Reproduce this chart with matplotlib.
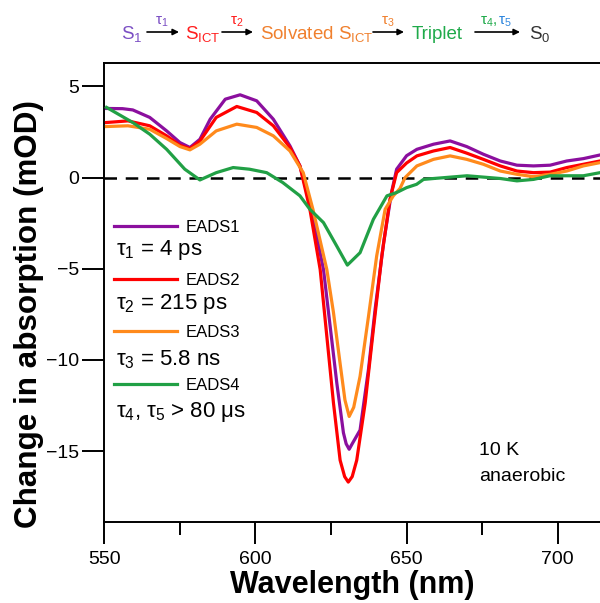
import numpy as np
import matplotlib
matplotlib.use('Agg')
import matplotlib.pyplot as plt
from matplotlib.lines import Line2D

plt.rcParams['font.family'] = ['Liberation Sans', 'DejaVu Sans']
plt.rcParams['mathtext.fontset'] = 'custom'
plt.rcParams['mathtext.rm'] = 'Liberation Sans'
plt.rcParams['mathtext.it'] = 'Liberation Sans'
plt.rcParams['mathtext.bf'] = 'Liberation Sans:bold'

# EADS spectra (wavelength in nm, change in mOD)
wl_1 = [550.7, 556, 559.4, 565, 570.6, 575, 578.3, 581.6, 585, 590, 594.9, 600.4, 605.9,
        611.4, 614.7, 618.5, 622.5, 624.7, 626.9, 629.1, 630, 631, 632, 634.6, 637.4,
        639.6, 642.4, 645, 646.7, 650, 653.4, 658.9, 664.4, 669.9, 675.4, 681, 686.5,
        692, 697.5, 703, 708.5, 714]
eads_1 = [3.79, 3.78, 3.71, 3.30, 2.56, 1.92, 1.65, 2.10, 3.2, 4.3, 4.54, 4.21, 3.2,
          1.74, 0.64, -1.74, -5.04, -8.15, -11.26, -14.0, -14.6, -14.9, -14.6, -13.85, -10.5,
          -7.2, -3.57, -0.82, 0.46, 1.2, 1.55, 1.83, 2.01, 1.70, 1.28, 0.91, 0.68,
          0.64, 0.68, 0.91, 1.04, 1.24]

wl_2 = [550.7, 557.8, 565, 570.6, 575, 578.3, 581.6, 587, 593.8, 600.4, 605.9, 611.4,
        614.7, 618, 621.4, 623.6, 625.8, 628, 629.5, 630.7, 632, 633.5, 636.3, 639,
        641.8, 644.5, 646.7, 650, 653.4, 658.9, 664.4, 669.9, 675.4, 681, 686.5, 692,
        697.5, 703, 708.5, 714]
eads_2 = [3.02, 3.11, 2.84, 2.29, 1.77, 1.59, 2.0, 3.3, 3.9, 3.57, 2.84, 1.65,
          0.64, -1.74, -5.04, -8.7, -12.36, -15.5, -16.4, -16.7, -16.4, -15.5, -12.36, -8.34,
          -4.3, -1.19, 0.27, 0.8, 1.19, 1.46, 1.65, 1.34, 1.0, 0.64, 0.36, 0.27,
          0.3, 0.55, 0.73, 0.91]

wl_3 = [550.7, 557.8, 565, 570.6, 575, 578.3, 581.6, 587, 593.8, 600.4, 605.9, 611.4,
        615.8, 619, 623.6, 625.8, 628, 629.6, 631, 632.5, 634.6, 637.4, 640.1, 642.9,
        645.6, 647.8, 649.5, 653.4, 658.9, 664.4, 669.9, 675.4, 681, 686.5, 692, 697.5,
        703, 708.5, 714]
eads_3 = [2.80, 2.84, 2.65, 2.14, 1.7, 1.52, 1.83, 2.56, 2.93, 2.75, 2.29, 1.46,
          0.27, -1.74, -5.04, -7.4, -10.2, -12.2, -13.1, -12.6, -10.9, -7.6, -4.3, -1.74,
          -1.0, -0.6, 0.0, 0.64, 1.0, 1.19, 1.0, 0.73, 0.36, 0.18, 0.05, 0.18,
          0.36, 0.64, 0.82]

wl_4 = [550.7, 559.4, 565, 570.6, 576.6, 581.6, 587, 592.6, 598, 603.7, 609, 614.7,
        618, 622.5, 626.9, 630.4, 634.6, 639, 643.5, 646.7, 650, 653.3, 655.6, 659,
        670, 681, 686.5, 692, 697.5, 703, 708.5, 714]
eads_4 = [3.85, 3.02, 2.38, 1.55, 0.46, -0.13, 0.27, 0.55, 0.46, 0.27, -0.27, -1.0,
          -1.74, -2.47, -3.76, -4.8, -4.12, -2.29, -1.0, -0.82, -0.55, -0.37, -0.1, -0.05,
          0.1, -0.05, -0.18, -0.1, 0.1, 0.1, 0.1, 0.27]

series_labels = ['EADS1', 'EADS2', 'EADS3', 'EADS4']
series_colors = ['#8B0F9E', '#FF0000', '#FF8A1C', '#21A045']
lifetimes = [r'$\tau_1$ = 4 ps', r'$\tau_2$ = 215 ps', r'$\tau_3$ = 5.8 ns',
             r'$\tau_4$, $\tau_5$ > 80 $\mu$s']

x_ticks = [550, 600, 650, 700]
y_ticks = [5, 0, -5, -10, -15]


fig = plt.figure(figsize=(6, 6.03), dpi=100)
ax = fig.add_axes([0.174, 0.134, 0.826, 0.762])

for wl, vals, col in zip([wl_1, wl_2, wl_3, wl_4], [eads_1, eads_2, eads_3, eads_4], series_colors):
    ax.plot(wl, vals, color=col, lw=2.3, solid_joinstyle='round', zorder=3)

ax.axhline(0, color='black', lw=1.8, ls=(0, (5, 3.5)), zorder=2)

ax.set_xlim(550, 714)
ax.set_ylim(-18.9, 6.3)
ax.set_xticks(x_ticks)
ax.set_xticks([575, 625, 675], minor=True)
ax.set_yticks(y_ticks)
ax.tick_params(axis='both', which='major', direction='out', length=16, width=1.4,
               labelsize=14)
ax.tick_params(axis='x', which='major', pad=5)
ax.tick_params(axis='y', which='major', pad=2)
ax.tick_params(axis='x', which='minor', direction='out', length=9, width=1.4)
for side in ['left', 'bottom', 'top']:
    ax.spines[side].set_linewidth(1.4)
ax.spines['right'].set_visible(False)

ax.set_xlabel('Wavelength (nm)', fontsize=22, fontweight='bold', labelpad=1)
ax.set_ylabel('Change in absorption (mOD)', fontsize=22.6, fontweight='bold')
ax.yaxis.set_label_coords(-0.121, 0.454)

# legend: coloured lines, with lifetimes written in between
handles = [Line2D([], [], color=c, lw=2.3) for c in series_colors]
leg = ax.legend(handles, series_labels, loc='upper left', bbox_to_anchor=(0.006, 0.672),
                frameon=False, fontsize=12, handlelength=3.75, handletextpad=0.55,
                labelspacing=2.25, borderaxespad=0)
for i, txt in enumerate(lifetimes):
    ax.text(0.024, [0.592, 0.474, 0.354, 0.239][i], txt, transform=ax.transAxes,
            fontsize=16, va='center', ha='left')

ax.text(0.756, 0.146, '10 K', transform=ax.transAxes, fontsize=14, va='baseline')
ax.text(0.756, 0.089, 'anaerobic', transform=ax.transAxes, fontsize=14, va='baseline')

# kinetic scheme above the plot
H = 603.0
W = 600.0
def fx(px):
    return px / W
def fy(py):
    return 1 - py / H

scheme = [
    (121, r'S$_1$', '#7B4FC4'),
    (185, r'S$_\mathrm{ICT}$', '#FF1F1F'),
    (260, r'Solvated S$_\mathrm{ICT}$', '#F0802E'),
    (412, 'Triplet', '#1FAA4A'),
    (529, r'S$_0$', '#333333'),
]
for px, s, c in scheme:
    fig.text(fx(px), fy(39), s, color=c, fontsize=13.5, ha='left', va='baseline')

arrows = [(147, 179), (222, 253), (373, 404), (475, 520)]
for a, b in arrows:
    ax.annotate('', xy=(fx(b), fy(32)), xytext=(fx(a), fy(32)), xycoords='figure fraction',
                textcoords='figure fraction',
                arrowprops=dict(arrowstyle='-|>', color='black', lw=1.2,
                                mutation_scale=9, shrinkA=0, shrinkB=0),
                annotation_clip=False)

arrow_labels = [(162, r'$\tau_1$', '#7B4FC4'), (237, r'$\tau_2$', '#FF1F1F'),
                (388, r'$\tau_3$', '#F0802E')]
for px, s, c in arrow_labels:
    fig.text(fx(px), fy(25), s, color=c, fontsize=11, ha='center', va='baseline')
fig.text(fx(480), fy(25), r'$\tau_4$,', color='#1FAA4A', fontsize=11, ha='left', va='baseline')
fig.text(fx(498), fy(25), r'$\tau_5$', color='#2E86DE', fontsize=11, ha='left', va='baseline')

fig.savefig('out.png', dpi=100)
